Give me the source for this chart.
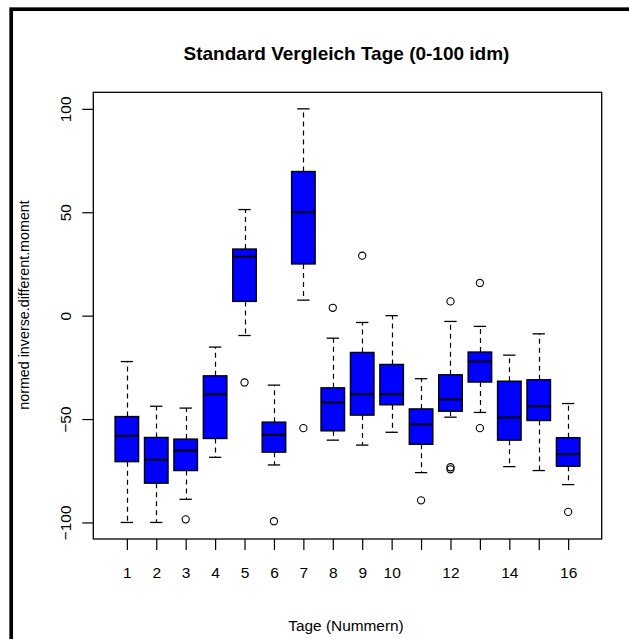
<!DOCTYPE html>
<html>
<head>
<meta charset="utf-8">
<script src="https://cdn.jsdelivr.net/npm/d3@7"></script>
<style>
  body { margin: 0; background: #fff; }
  text { font-family: 'Liberation Sans', Arial, sans-serif; fill: #000; }
</style>
</head>
<body>
<div id="chart"></div>
<script>
// values
const days = [1, 2, 3, 4, 5, 6, 7, 8, 9, 10, 11, 12, 13, 14, 15, 16]
const whiskerLow = [-100, -100, -88.8, -68.5, -9.6, -72.2, 7.5, -60.2, -62.6, -56.4, -75.9, -49.1, -46.8, -73.0, -74.9, -81.7]
const q1 = [-70.6, -81.0, -74.9, -59.4, 6.9, -66.0, 25.0, -55.7, -48.1, -43.1, -62.2, -46.2, -32.1, -60.2, -50.7, -72.8]
const medians = [-58.1, -69.7, -65.2, -38.0, 28.5, -57.6, 50.0, -42.0, -38.0, -38.0, -52.6, -40.5, -22.2, -49.3, -43.8, -67.0]
const q3 = [-48.8, -58.9, -59.7, -29.1, 32.2, -51.5, 69.7, -34.9, -17.8, -23.6, -45.1, -28.6, -17.6, -31.7, -31.0, -59.0]
const whiskerHigh = [-22.2, -43.8, -44.7, -15.2, 51.3, -33.6, 100, -10.9, -3.3, 0, -30.5, -2.8, -5.2, -19.1, -8.8, -42.5]
const outlierDays = [3, 5, 6, 7, 8, 9, 11, 12, 12, 12, 13, 13, 16]
const outlierValues = [-98.5, -32.3, -99.4, -54.4, 3.8, 29.0, -89.3, 6.9, -73.3, -74.3, 15.8, -54.4, -94.9]
const xTickLabels = ['1', '2', '3', '4', '5', '6', '7', '8', '9', '10', '', '12', '', '14', '', '16']
const yTicks = [-100, -50, 0, 50, 100]

const width = 629
const height = 639
const plot = { left: 93.3, top: 92.3, right: 601.7, bottom: 539 }

const svg = d3
  .select('#chart')
  .append('svg')
  .attr('width', width)
  .attr('height', height)

// outer frame (cut off on the right and bottom)
svg
  .append('rect')
  .attr('x', 11.2)
  .attr('y', 9.2)
  .attr('width', 700)
  .attr('height', 700)
  .attr('fill', 'none')
  .attr('stroke', '#000')
  .attr('stroke-width', 3.7)

const xPositionScale = d3
  .scaleLinear()
  .domain([-0.14, 17.14])
  .range([plot.left, plot.right])
const yPositionScale = d3
  .scaleLinear()
  .domain([-108, 108])
  .range([plot.bottom, plot.top])

const boxes = days.map((d, i) => ({
  day: d,
  lo: whiskerLow[i],
  q1: q1[i],
  med: medians[i],
  q3: q3[i],
  hi: whiskerHigh[i]
}))
const outliers = outlierDays.map((d, i) => ({ day: d, value: outlierValues[i] }))

const boxHalf = 0.4
const stapleHalf = 0.21
const xs = d => xPositionScale(d)

const g = svg.append('g')

// whiskers
g.selectAll('.whisker')
  .data(boxes.flatMap(b => [[b, b.q3, b.hi], [b, b.q1, b.lo]]))
  .enter()
  .append('line')
  .attr('class', 'whisker')
  .attr('x1', d => Math.round(xs(d[0].day)) + 0.5)
  .attr('x2', d => Math.round(xs(d[0].day)) + 0.5)
  .attr('y1', d => yPositionScale(d[1]))
  .attr('y2', d => yPositionScale(d[2]))
  .attr('stroke', '#000')
  .attr('stroke-width', 1.2)
  .attr('stroke-dasharray', '5,4')

// staples
g.selectAll('.staple')
  .data(boxes.flatMap(b => [[b, b.hi], [b, b.lo]]))
  .enter()
  .append('line')
  .attr('class', 'staple')
  .attr('x1', d => xs(d[0].day - stapleHalf))
  .attr('x2', d => xs(d[0].day + stapleHalf))
  .attr('y1', d => yPositionScale(d[1]))
  .attr('y2', d => yPositionScale(d[1]))
  .attr('stroke', '#000')
  .attr('stroke-width', 1.3)

// boxes
g.selectAll('.box')
  .data(boxes)
  .enter()
  .append('rect')
  .attr('class', 'box')
  .attr('x', d => xs(d.day - boxHalf))
  .attr('width', d => xs(d.day + boxHalf) - xs(d.day - boxHalf))
  .attr('y', d => yPositionScale(d.q3))
  .attr('height', d => yPositionScale(d.q1) - yPositionScale(d.q3))
  .attr('fill', '#0000ff')
  .attr('stroke', '#000')
  .attr('stroke-width', 1.4)

// medians
g.selectAll('.median')
  .data(boxes)
  .enter()
  .append('line')
  .attr('class', 'median')
  .attr('x1', d => xs(d.day - boxHalf))
  .attr('x2', d => xs(d.day + boxHalf))
  .attr('y1', d => yPositionScale(d.med))
  .attr('y2', d => yPositionScale(d.med))
  .attr('stroke', '#000')
  .attr('stroke-width', 2)

// outliers
g.selectAll('.outlier')
  .data(outliers)
  .enter()
  .append('circle')
  .attr('class', 'outlier')
  .attr('cx', d => xs(d.day))
  .attr('cy', d => yPositionScale(d.value))
  .attr('r', 3.6)
  .attr('fill', 'none')
  .attr('stroke', '#000')
  .attr('stroke-width', 1.1)

// plot frame
svg
  .append('rect')
  .attr('x', plot.left)
  .attr('y', plot.top)
  .attr('width', plot.right - plot.left)
  .attr('height', plot.bottom - plot.top)
  .attr('fill', 'none')
  .attr('stroke', '#000')
  .attr('stroke-width', 1.3)

// axes
const xAxis = d3
  .axisBottom(xPositionScale)
  .tickValues(days)
  .tickSize(11)
  .tickFormat((d, i) => xTickLabels[i])
svg
  .append('g')
  .attr('class', 'axis x-axis')
  .attr('transform', 'translate(0,' + plot.bottom + ')')
  .call(xAxis)
svg.select('.x-axis .domain').remove()
svg
  .selectAll('.x-axis text')
  .attr('y', 39)
  .attr('dy', 0)
  .style('font-size', '15.5px')
  .style('font-family', "'Liberation Sans', Arial, sans-serif")

const yAxis = d3
  .axisLeft(yPositionScale)
  .tickValues(yTicks)
  .tickSize(11)
svg
  .append('g')
  .attr('class', 'axis y-axis')
  .attr('transform', 'translate(' + plot.left + ',0)')
  .call(yAxis)
svg.select('.y-axis .domain').remove()
svg
  .selectAll('.y-axis text')
  .attr('x', 0)
  .attr('dy', 0)
  .attr('text-anchor', 'middle')
  .attr('transform', 'translate(-22.6,0) rotate(-90)')
  .style('font-size', '15.5px')
  .style('font-family', "'Liberation Sans', Arial, sans-serif")
svg.selectAll('.axis line').attr('stroke', '#000').attr('stroke-width', 1.2)

// titles
svg
  .append('text')
  .attr('x', 346.5)
  .attr('y', 59.5)
  .attr('text-anchor', 'middle')
  .style('font-size', '19px')
  .style('font-weight', 'bold')
  .text('Standard Vergleich Tage (0-100 idm)')

svg
  .append('text')
  .attr('x', 346)
  .attr('y', 631)
  .attr('text-anchor', 'middle')
  .style('font-size', '15.4px')
  .text('Tage (Nummern)')

svg
  .append('text')
  .attr('transform', 'translate(29,305) rotate(-90)')
  .attr('text-anchor', 'middle')
  .style('font-size', '14.3px')
  .text('normed inverse.different.moment')
</script>
</body>
</html>
